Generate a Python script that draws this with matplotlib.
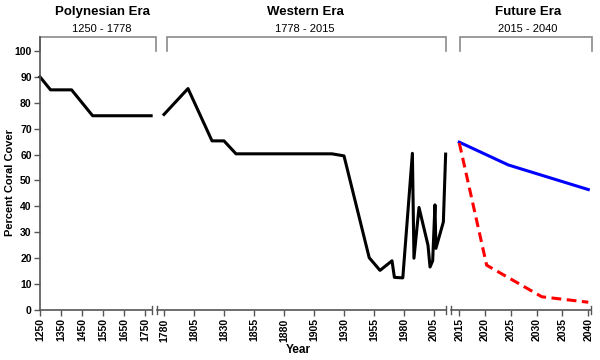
import matplotlib
matplotlib.use("Agg")
import matplotlib.pyplot as plt

plt.rcParams['font.family'] = ['Liberation Sans', 'DejaVu Sans']

# coral cover readings (percent)
poly_years = [1250, 1300, 1400, 1500, 1778]
poly_cover = [90, 85, 85, 75, 75]

west_years = [1780, 1800, 1820, 1830, 1840, 1920, 1930, 1951, 1960, 1970, 1972,
              1979, 1987, 1988.3, 1992.5, 2000, 2001.7, 2003.9, 2005.8, 2006.6,
              2012.8, 2014.7]
west_cover = [75.5, 85.5, 65.3, 65.3, 60.3, 60.3, 59.5, 20.2, 15.3, 19, 12.6,
              12.4, 60.5, 20, 39.6, 25, 16.6, 19, 40.6, 23.8, 34, 60.2]

future_years = [2015, 2024.5, 2040]
future_low = [64.8, 56, 46.5]
future_high_years = [2015, 2020.3, 2031, 2040]
future_high = [64.5, 17.3, 5.1, 3]

poly_ticks = [1250, 1350, 1450, 1550, 1650, 1750]
west_ticks = [1780, 1805, 1830, 1855, 1880, 1905, 1930, 1955, 1980, 2005]
future_ticks = [2015, 2020, 2025, 2030, 2035, 2040]

W, H = 600, 360
fig = plt.figure(figsize=(6, 3.6), dpi=100)

ybot = 310
ytop_val = 105.5
px_per = 2.59
axh = ytop_val * px_per

def make_ax(x0, x1):
    return fig.add_axes([x0 / W, (H - ybot) / H, (x1 - x0) / W, axh / H])

ax1 = make_ax(40, 152)
ax2 = make_ax(157, 446)
ax3 = make_ax(451, 591)

axc = '#555555'
brc = '#8a8a8a'

for ax in (ax1, ax2, ax3):
    ax.set_ylim(0, ytop_val)
    ax.spines['top'].set_visible(False)
    ax.spines['right'].set_visible(False)
    ax.spines['bottom'].set_color(axc)
    ax.spines['bottom'].set_linewidth(1.2)
    ax.tick_params(axis='x', direction='out', length=4, width=1, color=axc,
                   labelsize=7.5, rotation=90, pad=2)
    ax.patch.set_alpha(0)

for ax in (ax2, ax3):
    ax.spines['left'].set_visible(False)
    ax.set_yticks([])

ax1.spines['left'].set_color(axc)
ax1.spines['left'].set_linewidth(1.2)
ax1.set_yticks(range(0, 101, 10))
ax1.tick_params(axis='y', direction='out', length=4, width=1, color=axc,
                labelsize=7.5, pad=2)

ax1.set_xlim(1250, 1250 + 112 / 0.2105)
ax2.set_xlim(1780 - 7 / 1.2, 1780 + 282 / 1.2)
ax3.set_xlim(2015 - 8.3 / 5.16, 2015 + 131.7 / 5.16)

ax1.set_xticks(poly_ticks)
ax2.set_xticks(west_ticks)
ax3.set_xticks(future_ticks)
for ax in (ax1, ax2, ax3):
    for lab in ax.get_xticklabels() + ax.get_yticklabels():
        lab.set_fontweight('bold')

ax1.plot(poly_years, poly_cover, color='black', lw=2.2, clip_on=False)
ax2.plot(west_years, west_cover, color='black', lw=2.2, clip_on=False)
ax3.plot(future_years, future_low, color='#0000ff', lw=2.2, clip_on=False)
ax3.plot(future_high_years, future_high, color='#ff0000', lw=2.2,
         dashes=(3.2, 1.8), clip_on=False)

# break marks on the axis
def bar(ax, xa):
    ax.plot([xa, xa], [-0.016, 0.016], transform=ax.transAxes, color=axc,
            lw=1, clip_on=False)

bar(ax1, 1)
bar(ax2, 0)
bar(ax2, 1)
bar(ax3, 0)
bar(ax3, 1)

# brackets over each era
def bracket(ax, xa, xb):
    ax.plot([xa, xa, xb, xb], [100, ytop_val, ytop_val, 100], color=brc,
            lw=1.2, clip_on=False, solid_joinstyle='miter')

bracket(ax1, 1250, 1250 + 116 / 0.2105)
bracket(ax2, 1782.5, 1780 + 282 / 1.2)
bracket(ax3, 2015.1, 2040.7)

titles = [("Polynesian Era", "1250 - 1778", 102),
          ("Western Era", "1778 - 2015", 305),
          ("Future Era", "2015 - 2040", 528)]
for t, sub, xc in titles:
    fig.text(xc / W, 1 - 12 / H, t, ha='center', va='center',
             fontsize=9.5, fontweight='bold')
    fig.text(xc / W, 1 - 28.5 / H, sub, ha='center', va='center', fontsize=8)

fig.text(298 / W, 1 - 350 / H, "Year", ha='center', va='center',
         fontsize=8.5, fontweight='bold')
fig.text(10 / W, 1 - 183 / H, "Percent Coral Cover", ha='center',
         va='center', rotation=90, fontsize=8, fontweight='bold')

fig.savefig("out.png", dpi=100)
